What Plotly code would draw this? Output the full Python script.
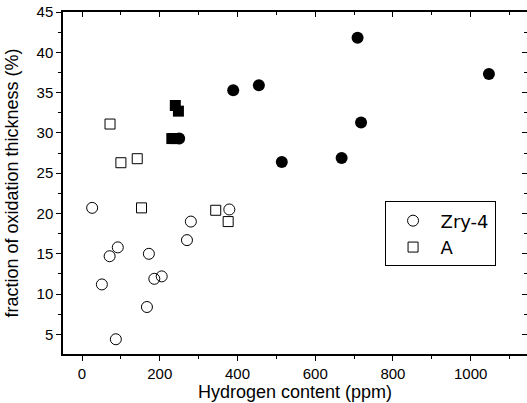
import plotly.graph_objects as go

# Zry-4 (open circles)
zry_x = [26, 51, 71, 92, 87, 172, 167, 186, 205, 270, 280, 379]
zry_y = [20.7, 11.2, 14.7, 15.8, 4.4, 15.0, 8.4, 11.9, 12.2, 16.7, 19.0, 20.5]
# A (open squares)
a_x = [72, 100, 142, 153, 344, 376]
a_y = [31.1, 26.3, 26.8, 20.7, 20.4, 19.0]
# filled circles
fc_x = [250, 389, 455, 514, 668, 709, 718, 1047]
fc_y = [29.3, 35.3, 35.9, 26.4, 26.9, 41.8, 31.3, 37.3]
# filled squares
fs_x = [231, 237, 243, 240, 248]
fs_y = [29.3, 29.3, 29.3, 33.4, 32.7]

font = "Liberation Sans, Arial, sans-serif"
fig = go.Figure()
fig.add_trace(go.Scatter(x=zry_x, y=zry_y, mode="markers", name="Zry-4",
                         marker=dict(symbol="circle-open", size=11, color="black",
                                     line=dict(width=1, color="black"))))
fig.add_trace(go.Scatter(x=a_x, y=a_y, mode="markers", name="A",
                         marker=dict(symbol="square-open", size=10, color="black",
                                     line=dict(width=1, color="black"))))
fig.add_trace(go.Scatter(x=fs_x, y=fs_y, mode="markers", showlegend=False,
                         marker=dict(symbol="square", size=11, color="black")))
fig.add_trace(go.Scatter(x=fc_x, y=fc_y, mode="markers", showlegend=False,
                         marker=dict(symbol="circle", size=12, color="black")))
fig.add_trace(go.Scatter(x=[], y=[], xaxis="x2", yaxis="y2", showlegend=False))

xr = [-49, 1145]
yr = [2.57, 45]
fig.update_layout(
    width=527, height=403,
    margin=dict(l=63, r=0, t=12, b=49, autoexpand=False),
    paper_bgcolor="white", plot_bgcolor="white",
    font=dict(family=font, color="black", size=15),
    showlegend=True,
    legend=dict(x=0.693, y=0.446, xanchor="left", yanchor="top",
                bordercolor="black", borderwidth=1, bgcolor="white",
                font=dict(size=18, family="DejaVu Sans, sans-serif"),
                itemwidth=45, tracegroupgap=0),
    xaxis=dict(range=xr, tickvals=[0, 200, 400, 600, 800, 1000], automargin=False,
               ticks="outside", ticklen=5, tickwidth=1, tickcolor="black",
               minor=dict(dtick=100, tick0=0, ticks="outside", ticklen=3, tickcolor="black"),
               showline=True, linecolor="black", linewidth=1.5, showgrid=False, zeroline=False,
               tickfont=dict(size=15),
               title=dict(text="Hydrogen content (ppm)", font=dict(size=18), standoff=4)),
    yaxis=dict(range=yr, tickvals=[5, 10, 15, 20, 25, 30, 35, 40, 45], automargin=False,
               ticks="outside", ticklen=5, tickwidth=1, tickcolor="black",
               minor=dict(dtick=2.5, tick0=0, ticks="outside", ticklen=3, tickcolor="black"),
               showline=True, linecolor="black", linewidth=1.5, showgrid=False, zeroline=False,
               tickfont=dict(size=15),
               title=dict(text="fraction of oxidation thickness (%)", font=dict(size=18), standoff=13)),
    xaxis2=dict(range=xr, overlaying="x", side="top", anchor="y2", showticklabels=False,
                automargin=False,
                tickvals=[0, 200, 400, 600, 800, 1000], ticks="inside", ticklen=5,
                tickcolor="black",
                minor=dict(dtick=100, tick0=0, ticks="inside", ticklen=3, tickcolor="black"),
                showline=True, linecolor="black", linewidth=1.5, showgrid=False, zeroline=False),
    yaxis2=dict(range=yr, overlaying="y", side="right", anchor="x2", showticklabels=False,
                automargin=False,
                tickvals=[5, 10, 15, 20, 25, 30, 35, 40, 45], ticks="inside", ticklen=5,
                tickcolor="black",
                minor=dict(dtick=2.5, tick0=0, ticks="inside", ticklen=3, tickcolor="black"),
                showline=True, linecolor="black", linewidth=1.5, showgrid=False, zeroline=False),
)
fig.write_html("out.html", config={"displayModeBar": False},
               post_script="document.body.style.margin='0';document.body.style.overflow='hidden';")
